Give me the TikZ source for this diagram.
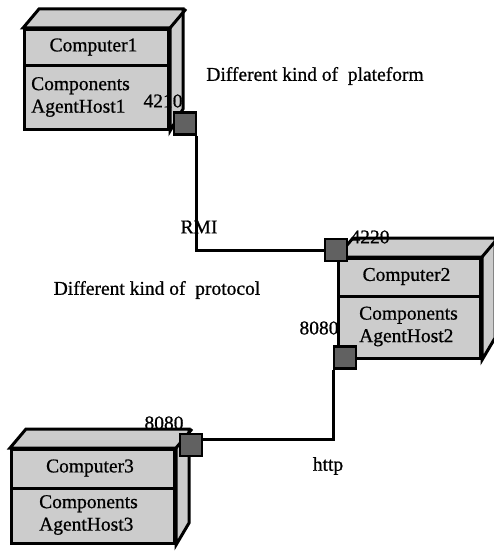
\documentclass[tikz,border=0pt]{standalone}
\usepackage{fontspec}
\setmainfont{Liberation Serif}[FakeBold=0.8]
\usepackage{tikz}

\begin{document}
\begin{tikzpicture}[x=1pt,y=-1pt,
    every node/.style={font=\fontsize{19.5}{22.5}\selectfont,inner sep=0pt},
    front/.style={rectangle,draw,fill=black!20,line width=3pt,anchor=north west},
    face/.style={fill=black!20,draw,line width=3pt,line join=miter},
    port/.style={rectangle,draw,fill=black!62,line width=2.8pt,minimum size=22pt},
    wire/.style={line width=3pt}]
\useasboundingbox (0,0) rectangle (493,553);
\foreach \n/\x/\y/\w/\h/\d/\m in {1/23/28/144/100/38/8,2/337/257/142/100/39/22,3/10/448/163/94/40/29}{
  \node[front,minimum width=\w pt,minimum height=\h pt] (c\n) at (\x,\y) {};
  \filldraw[face] (c\n.north west) -- ++(16,-19) -- ++(\w,0) -- ++(0,\h) -- (c\n.south east) -- (c\n.north east) -- cycle;
  \draw[face] (c\n.north east) -- ++(16,-19);
  \draw[line width=3pt] ([yshift=-\d pt]c\n.north west) -- ([yshift=-\d pt]c\n.north east);
  \path (c\n.north) ++(-3,{\d/2}) node (name\n) {Computer\n};
  \path (c\n.north west) ++(\m,{(\d+\h)/2}) node[anchor=west,align=left] (comp\n) {Components\\AgentHost\n};
}
\node[port] (p1) at (185,123.5) {};
\node[port] (p2) at (336,250) {};
\node[port] (p3) at (345,357.5) {};
\node[port] (p4) at (191,445) {};
\draw[wire] ([xshift=-1pt]p1.south east) |- (p2);
\draw[wire] ([xshift=1pt]p3.south west) |- ([yshift=6pt]p4.east);
\node[port] at (p1) {};
\node[port] at (p2) {};
\node[port] at (p3) {};
\node[port] at (p4) {};
\node (l1) at (163,101) {4210};
\node (l2) at (370,237) {4220};
\node (l3) at (319,328) {8080};
\node (l4) at (164,423) {8080};
\node (plat) at (315,76) {Different kind of\ \ plateform};
\node (rmi) at (199,227) {RMI};
\node (proto) at (157,290) {Different kind of\ \ protocol};
\node (http) at (328,466) {http};
\end{tikzpicture}
\end{document}
